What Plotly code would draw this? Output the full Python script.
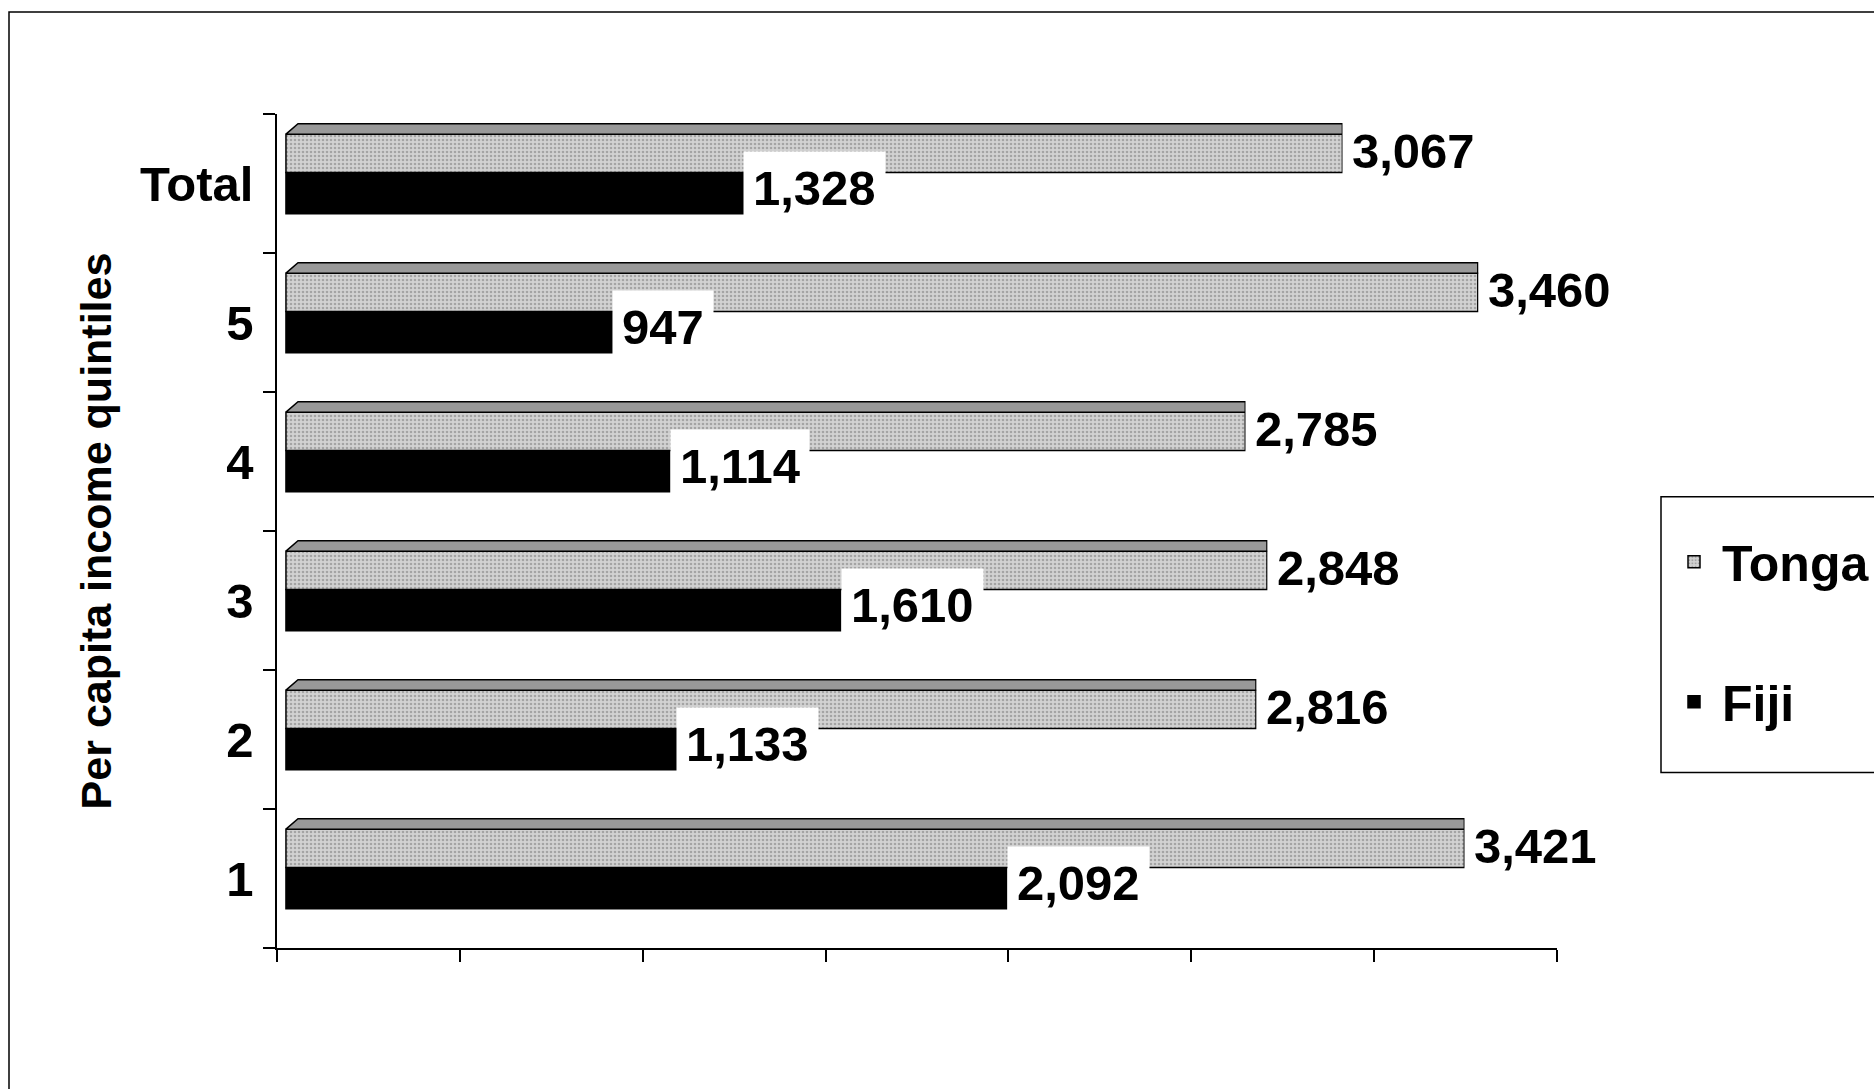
import numpy as np
import plotly.graph_objects as go

# ---- data -------------------------------------------------------------
categories = ["1", "2", "3", "4", "5", "Total"]
tonga = [3421, 2816, 2848, 2785, 3460, 3067]
fiji = [2092, 1133, 1610, 1114, 947, 1328]
series_names = ["Tonga", "Fiji"]
y_title = "Per capita income quintiles"

# ---- styling ----------------------------------------------------------
FONT = "Liberation Sans, Arial, sans-serif"
X_MIN, X_MAX = -26, 3690
N_XTICKS = 8
DEPTH_DX = 35          # horizontal slant of the 3D top face (data units)
FIJI_OFF, FIJI_W = -0.217, 0.296
TONGA_OFF, TONGA_W = 0.079, 0.276
TOP_H = 0.075

W, H = 1874, 1089
PL, PT, PW, PH = 277, 114, 1280, 834.5   # plot area in page pixels


def px_to_paper_x(px):
    return (px - PL) / PW


def px_to_paper_y(py):
    return (PT + PH - py) / PH


pos = list(range(len(categories)))

fig = go.Figure()

fig.add_bar(
    name=series_names[1], x=fiji, y=pos, orientation="h",
    width=FIJI_W, offset=FIJI_OFF,
    marker=dict(color="black", line=dict(color="black", width=1.5)),
    legendgroup="fiji", legendrank=2, hoverinfo="x+name",
)
fig.add_bar(
    name=series_names[0], x=tonga, y=pos, orientation="h",
    width=TONGA_W, offset=TONGA_OFF,
    marker=dict(
        color="#d2d2d2", line=dict(color="black", width=1.5),
        pattern=dict(shape=".", fgcolor="#767676", size=4, solidity=0.35,
                     fillmode="overlay"),
    ),
    legendgroup="tonga", legendrank=1, hoverinfo="x+name",
)

# 3D-looking top face of the Tonga bars
xs, ys = [], []
for p, v in zip(pos, tonga):
    y0 = p + TONGA_OFF + TONGA_W
    y1 = y0 + TOP_H
    xs += [0, DEPTH_DX, v, v, 0, None]
    ys += [y0, y1, y1, y0, y0, None]
fig.add_scatter(
    x=xs, y=ys, mode="lines", fill="toself", fillcolor="#999999",
    line=dict(color="black", width=1.5), showlegend=False, hoverinfo="skip",
)

# data labels
label_font = dict(family=FONT, size=49, color="black", weight="bold")
for p, v in zip(pos, tonga):
    fig.add_annotation(x=v, y=p + 0.235, text=f"{v:,}", showarrow=False,
                       xanchor="left", yanchor="middle", bgcolor="white",
                       borderpad=9, font=label_font)
for p, v in zip(pos, fiji):
    fig.add_annotation(x=v, y=p - 0.03, text=f"{v:,}", showarrow=False,
                       xanchor="left", yanchor="middle", bgcolor="white",
                       borderpad=9, font=label_font)

# outer frame (partially cropped in the original)
fig.add_shape(type="rect", xref="paper", yref="paper",
              x0=px_to_paper_x(9), x1=px_to_paper_x(W + 50),
              y0=px_to_paper_y(H + 50), y1=px_to_paper_y(12),
              line=dict(color="black", width=1.5), fillcolor="rgba(0,0,0,0)",
              layer="below")
# legend frame
fig.add_shape(type="rect", xref="paper", yref="paper",
              x0=px_to_paper_x(1661), x1=px_to_paper_x(W + 50),
              y0=px_to_paper_y(773), y1=px_to_paper_y(497),
              line=dict(color="black", width=1.5), fillcolor="white",
              layer="below")

fig.update_layout(
    width=W, height=H,
    margin=dict(l=PL, r=W - PL - PW, t=PT, b=H - PT - PH, autoexpand=False),
    paper_bgcolor="white", plot_bgcolor="white",
    barmode="overlay",
    font=dict(family=FONT, color="black"),
    showlegend=True,
    legend=dict(
        x=px_to_paper_x(1666), y=px_to_paper_y(484),
        xanchor="left", yanchor="top",
        bgcolor="rgba(0,0,0,0)", borderwidth=0,
        font=dict(family=FONT, size=50, color="black", weight="bold"),
        tracegroupgap=72, itemwidth=46,
        title=dict(text=" ", font=dict(size=30)),
    ),
    xaxis=dict(
        range=[X_MIN, X_MAX],
        tickvals=list(np.linspace(X_MIN, X_MAX, N_XTICKS)),
        showticklabels=False, ticks="outside", ticklen=12, tickwidth=1.5,
        tickcolor="black", showline=True, linecolor="black", linewidth=1.5,
        showgrid=False, zeroline=False,
    ),
    yaxis=dict(
        range=[-0.5, len(categories) - 0.5],
        tickvals=pos, ticktext=categories, ticks="",
        tickfont=dict(family=FONT, size=49, color="black", weight="bold"),
        ticklabelstandoff=12,
        minor=dict(tickvals=[p - 0.5 for p in pos] + [len(pos) - 0.5],
                   ticks="outside", ticklen=12, tickwidth=1.5,
                   tickcolor="black"),
        showline=True, linecolor="black", linewidth=1.5,
        showgrid=False, zeroline=False,
        title=dict(text=y_title, standoff=15,
                   font=dict(family=FONT, size=43, color="black",
                             weight="bold")),
    ),
)

fig.write_html("out.html",
               config={"displayModeBar": False},
               post_script="document.body.style.margin='0px';")
